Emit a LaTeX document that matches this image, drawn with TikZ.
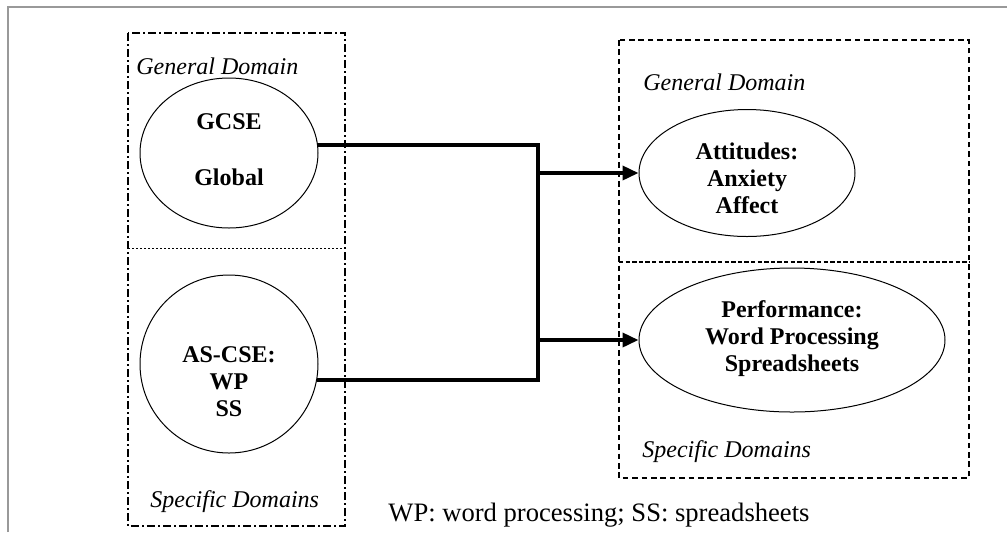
\documentclass[tikz,border=0pt]{standalone}
\usepackage{fontspec}
\setmainfont{Liberation Serif}
\usetikzlibrary{shapes.geometric,arrows.meta}

\begin{document}
\begin{tikzpicture}[x=0.5pt,y=-0.5pt]
        \tikzstyle{every node}+=[font=\fontsize{12pt}{13.5pt}\selectfont]
        \tikzstyle{dom}=[draw=black,ellipse,line width=0.5pt,inner sep=0pt]
        \tikzstyle{bold}=[align=center,font=\fontsize{12pt}{13.5pt}\selectfont\bfseries]
        \tikzstyle{tag}=[font=\fontsize{12pt}{13.5pt}\selectfont\itshape,anchor=west,inner sep=0pt]
        \tikzstyle{link}=[line width=1.8pt,line cap=rect]
        \tikzstyle{arr}=[line width=1.8pt,-{Triangle[length=8pt,width=7pt]}]
        \useasboundingbox (0,0) rectangle (1007,532);
        \draw [gray!80,line width=1pt] (8,532) -- (8,7) -- (1007,7);
        % left domain box
        \draw [black,line width=0.6pt,dash pattern=on 4pt off 1.6pt on 0.8pt off 1.6pt] (128,33) rectangle (345,526);
        \draw [black,line width=0.4pt,dash pattern=on 1pt off 1pt] (128,248) -- (345,248);
        \node [tag] (gdl) at (136,66) {General Domain};
        \node [tag] (sdl) at (150,502) {Specific Domains};
        \node [dom,minimum width=89pt,minimum height=75pt] (gcse) at (229,153) {};
        \node [bold] (gcsetxt) at (229,150) {GCSE\\[14.5pt]Global};
        \node [dom,circle,minimum size=89pt] (ascse) at (229,364) {};
        \node [bold] (ascsetxt) at (229,382) {AS-CSE:\\WP\\SS};
        % right domain box
        \draw [black,line width=0.6pt,dash pattern=on 2.8pt off 1.9pt] (619,40) rectangle (969,478);
        \draw [black,line width=0.6pt,dash pattern=on 2.2pt off 1.1pt] (619,262) -- (969,262);
        \node [tag] (gdr) at (643,82) {General Domain};
        \node [tag] (sdr) at (642,452) {Specific Domains};
        \node [dom,minimum width=108pt,minimum height=63.5pt] (att) at (747,173) {};
        \node [bold] (atttxt) at (747,178) {Attitudes:\\Anxiety\\Affect};
        \node [dom,minimum width=153pt,minimum height=72pt] (perf) at (792,340) {};
        \node [bold] (perftxt) at (792,339) {Performance:\\Word Processing\\Spreadsheets};
        % connectors
        \coordinate (jtop) at (538,145);
        \coordinate (jbot) at (538,380);
        \draw [link] (gcse.east |- jtop) -- (jtop) -- (jbot) -- (ascse.east |- jbot);
        \draw [arr] (jtop |- att.west) -- (att.west);
        \draw [arr] (jtop |- perf.west) -- (perf.west);
        \node [anchor=west,inner sep=0pt,font=\fontsize{13.3pt}{15pt}\selectfont] (note) at (388,515) {WP: word processing; SS: spreadsheets};
\end{tikzpicture}
\end{document}
